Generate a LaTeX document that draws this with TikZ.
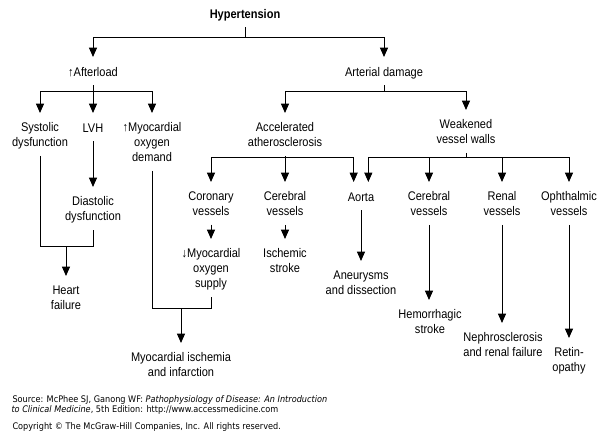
\documentclass[tikz,border=0pt]{standalone}
\usepackage{fontspec}
\setmainfont[FakeStretch=0.88]{Liberation Sans}
\newfontfamily\srcfont[FakeStretch=0.9]{DejaVu Sans}
\usepackage{tikz}
\usetikzlibrary{positioning,arrows.meta}

\tikzset{
  box/.style={anchor=north, align=center, inner xsep=1pt, inner ysep=4pt,
    execute at begin node={\rule{0pt}{0.75em}},
    execute at end node={\rule[-0.25em]{0pt}{0pt}},
    font=\fontsize{9.4}{11.25}\selectfont},
  arr/.style={-{Triangle[length=7pt,width=6pt]}, shorten >=3pt},
  src/.style={anchor=west, align=left, inner sep=0pt,
    font=\srcfont\fontsize{6.8}{9}\selectfont}
}

\begin{document}
\begin{tikzpicture}[x=0.75pt, y=-0.75pt, line width=0.75pt]
    \useasboundingbox (0,0) rectangle (600,441);
    % ---- Top ----
    \node[box, font=\bfseries\fontsize{9.4}{11.25}\selectfont] (ht) at (245,3) {Hypertension};
    \node[box] (aft) at (93,61) {\textuparrow Afterload};
    \node[box] (art) at (384,61) {Arterial damage};
    \draw (ht.south) -- (ht.south |- 0,38) coordinate (j1);
    \draw[arr] (j1) -| (aft.north);
    \draw[arr] (j1) -| (art.north);
    % ---- Afterload ----
    \node[box] (sys) at (40,117) {Systolic\\dysfunction};
    \node[box] (lvh) at (93,117) {LVH};
    \node[box] (dem) at (152,117) {\textuparrow Myocardial\\oxygen\\demand};
    \node[box] (dia) at (93,191) {Diastolic\\dysfunction};
    \node[box] (hf) at (66,280) {Heart\\failure};
    \draw (aft.south) -- (aft.south |- 0,92) coordinate (j2);
    \draw[arr] (j2) -| (sys.north);
    \draw[arr] (j2) -- (lvh.north);
    \draw[arr] (j2) -| (dem.north);
    \draw[arr] (lvh.south) -- (dia.north);
    \draw (sys.south) |- (dia.south |- 0,247) -- (dia.south);
    \draw[arr] (hf.north |- 0,247) -- (hf.north);
    % ---- Arterial damage ----
    \node[box] (acc) at (285,117) {Accelerated\\atherosclerosis};
    \node[box] (weak) at (466,114) {Weakened\\vessel walls};
    \draw (art.south) -- (art.south |- 0,92) coordinate (j3);
    \draw[arr] (j3) -| (acc.north);
    \draw[arr] (j3) -| (weak.north);
    % ---- Accelerated atherosclerosis ----
    \node[box] (cor) at (211,186) {Coronary\\vessels};
    \node[box] (cerl) at (285,186) {Cerebral\\vessels};
    \node[box] (aor) at (361,186) {Aorta};
    \node[box] (sup) at (211,243) {\textdownarrow Myocardial\\oxygen\\supply};
    \node[box] (isc) at (285,243) {Ischemic\\stroke};
    \node[box] (isch) at (181,347) {Myocardial ischemia\\and infarction};
    \draw (acc.south) -- (acc.south |- 0,158) coordinate (j4);
    \draw[arr] (j4) -| (cor.north);
    \draw[arr] (j4) -- (cerl.north);
    \draw[arr] (j4) -| ([xshift=-5.5]aor.north);
    \draw[arr] (cor.south) -- (sup.north);
    \draw[arr] (cerl.south) -- (isc.north);
    \draw (dem.south) |- (sup.south |- 0,309) -- (sup.south);
    \draw[arr] (isch.north |- 0,309) -- (isch.north);
    % ---- Weakened vessel walls ----
    \node[box] (cerr) at (429,186) {Cerebral\\vessels};
    \node[box] (ren) at (502,186) {Renal\\vessels};
    \node[box] (oph) at (569,186) {Ophthalmic\\vessels};
    \node[box] (aneu) at (361,265) {Aneurysms\\and dissection};
    \node[box] (hem) at (430,304) {Hemorrhagic\\stroke};
    \node[box] (neph) at (503,327) {Nephrosclerosis\\and renal failure};
    \node[box] (ret) at (569,342) {Retin-\\opathy};
    \draw (weak.south) -- (weak.south |- 0,158) coordinate (j5);
    \draw[arr] (j5) -| ([xshift=5.5]aor.north);
    \draw[arr] (j5) -| (cerr.north);
    \draw[arr] (j5) -| (ren.north);
    \draw[arr] (j5) -| (oph.north);
    \draw[arr] (aor.south) -- (aneu.north);
    \draw[arr] (cerr.south) -- (cerr.south |- hem.north);
    \draw[arr] (ren.south) -- (ren.south |- neph.north);
    \draw[arr] (oph.south) -- (ret.north);
    % ---- Source ----
    \node[src] (s1) at (12,400) {Source: McPhee SJ, Ganong WF: \textit{Pathophysiology of Disease: An Introduction}};
    \node[src] (s2) at (11,410) {\textit{to Clinical Medicine}, 5th Edition: http://www.accessmedicine.com};
    \node[src] (s3) at (12,427) {Copyright \textcopyright\ The McGraw-Hill Companies, Inc. All rights reserved.};
\end{tikzpicture}
\end{document}
